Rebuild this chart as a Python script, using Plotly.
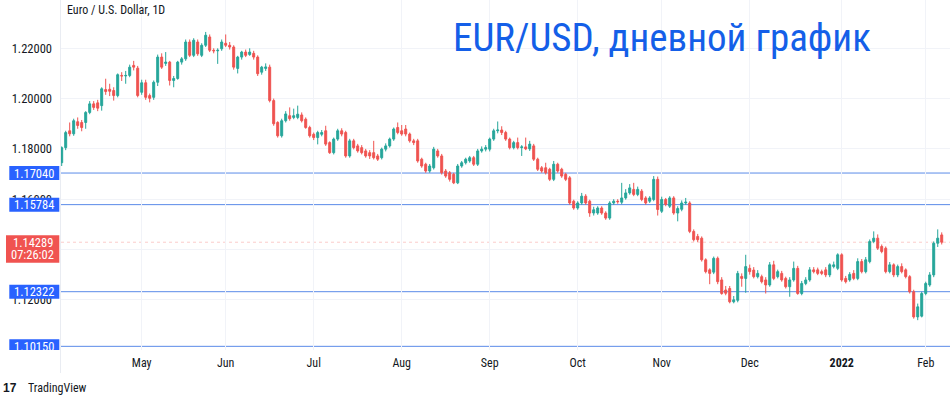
import plotly.graph_objects as go
import pandas as pd

# ---------------- data ----------------
open_ = [
    1.1745, 1.1805, 1.1872, 1.1860, 1.1908, 1.1905, 1.1905, 1.1945, 1.1979, 1.1983,
    1.1972, 1.2036, 1.2037, 1.2032, 1.2012, 1.2092, 1.2090, 1.2092, 1.2132, 1.2121,
    1.2025, 1.2063, 1.2012, 1.2005, 1.2065, 1.2165, 1.2140, 1.2145, 1.2072, 1.2080,
    1.2145, 1.2158, 1.2225, 1.2172, 1.2225, 1.2172, 1.2212, 1.2245, 1.2192, 1.2190,
    1.2198, 1.2220, 1.2212, 1.2205, 1.2120, 1.2165, 1.2185, 1.2175, 1.2180, 1.2165,
    1.2105, 1.2120, 1.2125, 1.1992, 1.1905, 1.1852, 1.1912, 1.1932, 1.1925, 1.1925,
    1.1935, 1.1918, 1.1885, 1.1858, 1.1845, 1.1858, 1.1872, 1.1825, 1.1785, 1.1839,
    1.1872, 1.1865, 1.1772, 1.1832, 1.1812, 1.1805, 1.1792, 1.1785, 1.1785, 1.1772,
    1.1765, 1.1799, 1.1812, 1.1839, 1.1885, 1.1872, 1.1879, 1.1859, 1.1832, 1.1832,
    1.1759, 1.1739, 1.1712, 1.1725, 1.1792, 1.1772, 1.1712, 1.1705, 1.1699, 1.1665,
    1.1732, 1.1745, 1.1752, 1.1765, 1.1739, 1.1792, 1.1799, 1.1799, 1.1839, 1.1872,
    1.1875, 1.1865, 1.1839, 1.1805, 1.1825, 1.1805, 1.1808, 1.1800, 1.1812, 1.1759,
    1.1725, 1.1725, 1.1719, 1.1679, 1.1739, 1.1719, 1.1699, 1.1685, 1.1592, 1.1565,
    1.1585, 1.1612, 1.1592, 1.1545, 1.1545, 1.1565, 1.1545, 1.1525, 1.1585, 1.1592,
    1.1588, 1.1605, 1.1625, 1.1639, 1.1619, 1.1632, 1.1605, 1.1592, 1.1599, 1.1679,
    1.1552, 1.1599, 1.1572, 1.1605, 1.1545, 1.1560, 1.1585, 1.1585, 1.1472, 1.1452,
    1.1445, 1.1359, 1.1319, 1.1310, 1.1365, 1.1279, 1.1239, 1.1245, 1.1192, 1.1198,
    1.1293, 1.1285, 1.1325, 1.1318, 1.1292, 1.1292, 1.1279, 1.1259, 1.1339, 1.1292,
    1.1305, 1.1285, 1.1252, 1.1279, 1.1325, 1.1225, 1.1265, 1.1279, 1.1319, 1.1319,
    1.1312, 1.1319, 1.1299, 1.1332, 1.1325, 1.1379, 1.1285, 1.1279, 1.1305, 1.1285,
    1.1352, 1.1312, 1.1352, 1.1432, 1.1445, 1.1412, 1.1405, 1.1312, 1.1339, 1.1299,
    1.1332, 1.1319, 1.1292, 1.1232, 1.1132, 1.1135, 1.1225, 1.1259, 1.1299, 1.1425,
    1.1458,
]
high_ = [
    1.1810, 1.1872, 1.1905, 1.1920, 1.1925, 1.1915, 1.1950, 1.1990, 1.1990, 1.1995,
    1.2045, 1.2079, 1.2059, 1.2045, 1.2100, 1.2105, 1.2110, 1.2135, 1.2150, 1.2130,
    1.2075, 1.2075, 1.2020, 1.2072, 1.2175, 1.2180, 1.2185, 1.2150, 1.2090, 1.2150,
    1.2165, 1.2235, 1.2235, 1.2240, 1.2235, 1.2220, 1.2265, 1.2255, 1.2200, 1.2200,
    1.2235, 1.2255, 1.2225, 1.2212, 1.2170, 1.2190, 1.2195, 1.2200, 1.2190, 1.2172,
    1.2130, 1.2140, 1.2135, 1.2000, 1.1910, 1.1920, 1.1950, 1.1965, 1.1960, 1.1972,
    1.1945, 1.1925, 1.1892, 1.1865, 1.1872, 1.1875, 1.1892, 1.1830, 1.1845, 1.1880,
    1.1882, 1.1872, 1.1840, 1.1840, 1.1820, 1.1815, 1.1800, 1.1795, 1.1832, 1.1780,
    1.1805, 1.1822, 1.1845, 1.1885, 1.1905, 1.1895, 1.1895, 1.1865, 1.1840, 1.1840,
    1.1765, 1.1745, 1.1740, 1.1808, 1.1800, 1.1780, 1.1720, 1.1712, 1.1705, 1.1740,
    1.1752, 1.1765, 1.1772, 1.1772, 1.1800, 1.1810, 1.1815, 1.1845, 1.1880, 1.1909,
    1.1890, 1.1872, 1.1845, 1.1832, 1.1845, 1.1815, 1.1845, 1.1832, 1.1820, 1.1765,
    1.1732, 1.1745, 1.1725, 1.1752, 1.1745, 1.1725, 1.1705, 1.1692, 1.1598, 1.1592,
    1.1625, 1.1620, 1.1598, 1.1570, 1.1572, 1.1572, 1.1552, 1.1592, 1.1600, 1.1600,
    1.1665, 1.1640, 1.1660, 1.1665, 1.1650, 1.1640, 1.1612, 1.1612, 1.1692, 1.1690,
    1.1610, 1.1605, 1.1612, 1.1612, 1.1572, 1.1595, 1.1605, 1.1592, 1.1480, 1.1462,
    1.1452, 1.1365, 1.1325, 1.1372, 1.1372, 1.1290, 1.1255, 1.1255, 1.1215, 1.1315,
    1.1305, 1.1379, 1.1340, 1.1330, 1.1318, 1.1300, 1.1290, 1.1350, 1.1355, 1.1320,
    1.1315, 1.1292, 1.1290, 1.1352, 1.1335, 1.1275, 1.1290, 1.1330, 1.1330, 1.1328,
    1.1320, 1.1330, 1.1345, 1.1352, 1.1385, 1.1385, 1.1295, 1.1310, 1.1318, 1.1365,
    1.1362, 1.1370, 1.1440, 1.1472, 1.1460, 1.1420, 1.1412, 1.1350, 1.1345, 1.1340,
    1.1345, 1.1325, 1.1298, 1.1240, 1.1185, 1.1232, 1.1272, 1.1310, 1.1432, 1.1480,
    1.1468,
]
low_ = [
    1.1732, 1.1795, 1.1850, 1.1852, 1.1880, 1.1870, 1.1880, 1.1938, 1.1955, 1.1950,
    1.1952, 1.2015, 1.2010, 1.1992, 1.2005, 1.2070, 1.2059, 1.2085, 1.2112, 1.2005,
    1.2015, 1.1995, 1.1985, 1.1995, 1.2050, 1.2118, 1.2130, 1.2052, 1.2045, 1.2075,
    1.2135, 1.2150, 1.2165, 1.2165, 1.2170, 1.2165, 1.2205, 1.2185, 1.2180, 1.2138,
    1.2190, 1.2205, 1.2195, 1.2115, 1.2100, 1.2155, 1.2165, 1.2170, 1.2155, 1.2090,
    1.2095, 1.2110, 1.1985, 1.1892, 1.1845, 1.1845, 1.1905, 1.1912, 1.1918, 1.1918,
    1.1905, 1.1880, 1.1845, 1.1835, 1.1818, 1.1850, 1.1812, 1.1780, 1.1778, 1.1832,
    1.1850, 1.1765, 1.1765, 1.1798, 1.1785, 1.1778, 1.1765, 1.1760, 1.1758, 1.1752,
    1.1758, 1.1790, 1.1805, 1.1832, 1.1858, 1.1852, 1.1850, 1.1825, 1.1815, 1.1745,
    1.1725, 1.1705, 1.1705, 1.1718, 1.1765, 1.1698, 1.1685, 1.1670, 1.1660, 1.1660,
    1.1725, 1.1738, 1.1745, 1.1732, 1.1732, 1.1785, 1.1790, 1.1790, 1.1832, 1.1862,
    1.1855, 1.1832, 1.1798, 1.1798, 1.1798, 1.1772, 1.1795, 1.1792, 1.1752, 1.1712,
    1.1705, 1.1698, 1.1672, 1.1672, 1.1705, 1.1685, 1.1672, 1.1578, 1.1558, 1.1558,
    1.1578, 1.1578, 1.1530, 1.1535, 1.1538, 1.1538, 1.1518, 1.1518, 1.1578, 1.1582,
    1.1580, 1.1598, 1.1618, 1.1612, 1.1612, 1.1592, 1.1578, 1.1585, 1.1592, 1.1535,
    1.1545, 1.1572, 1.1565, 1.1538, 1.1512, 1.1552, 1.1578, 1.1465, 1.1432, 1.1430,
    1.1352, 1.1305, 1.1262, 1.1302, 1.1262, 1.1220, 1.1218, 1.1186, 1.1186, 1.1190,
    1.1252, 1.1228, 1.1300, 1.1285, 1.1285, 1.1265, 1.1225, 1.1252, 1.1278, 1.1285,
    1.1272, 1.1245, 1.1212, 1.1272, 1.1220, 1.1218, 1.1258, 1.1272, 1.1305, 1.1298,
    1.1298, 1.1290, 1.1290, 1.1325, 1.1318, 1.1272, 1.1265, 1.1272, 1.1278, 1.1278,
    1.1305, 1.1305, 1.1345, 1.1425, 1.1398, 1.1385, 1.1305, 1.1305, 1.1290, 1.1290,
    1.1305, 1.1285, 1.1225, 1.1125, 1.1119, 1.1130, 1.1218, 1.1252, 1.1290, 1.1410,
    1.1420,
]
close_ = [
    1.1805, 1.1865, 1.1860, 1.1912, 1.1893, 1.1885, 1.1945, 1.1979, 1.1965, 1.1962,
    1.2039, 1.2028, 1.2029, 1.2012, 1.2095, 1.2090, 1.2092, 1.2125, 1.2125, 1.2012,
    1.2063, 1.2005, 1.2001, 1.2065, 1.2165, 1.2125, 1.2145, 1.2072, 1.2080, 1.2145,
    1.2158, 1.2225, 1.2172, 1.2232, 1.2178, 1.2212, 1.2252, 1.2192, 1.2190, 1.2192,
    1.2225, 1.2212, 1.2205, 1.2125, 1.2165, 1.2185, 1.2172, 1.2185, 1.2165, 1.2099,
    1.2125, 1.2126, 1.1992, 1.1900, 1.1852, 1.1912, 1.1939, 1.1920, 1.1932, 1.1938,
    1.1912, 1.1885, 1.1852, 1.1845, 1.1865, 1.1865, 1.1819, 1.1785, 1.1839, 1.1872,
    1.1859, 1.1772, 1.1832, 1.1805, 1.1792, 1.1785, 1.1772, 1.1772, 1.1765, 1.1759,
    1.1799, 1.1812, 1.1839, 1.1879, 1.1865, 1.1859, 1.1859, 1.1832, 1.1825, 1.1752,
    1.1732, 1.1712, 1.1732, 1.1799, 1.1772, 1.1705, 1.1692, 1.1679, 1.1665, 1.1732,
    1.1745, 1.1759, 1.1765, 1.1739, 1.1792, 1.1799, 1.1805, 1.1839, 1.1872, 1.1875,
    1.1865, 1.1839, 1.1805, 1.1825, 1.1805, 1.1808, 1.1800, 1.1819, 1.1759, 1.1719,
    1.1712, 1.1705, 1.1679, 1.1739, 1.1712, 1.1692, 1.1679, 1.1585, 1.1565, 1.1585,
    1.1612, 1.1585, 1.1545, 1.1558, 1.1565, 1.1545, 1.1525, 1.1585, 1.1592, 1.1590,
    1.1605, 1.1625, 1.1645, 1.1619, 1.1639, 1.1599, 1.1585, 1.1605, 1.1679, 1.1559,
    1.1599, 1.1579, 1.1605, 1.1545, 1.1563, 1.1585, 1.1588, 1.1472, 1.1439, 1.1439,
    1.1359, 1.1312, 1.1305, 1.1365, 1.1272, 1.1225, 1.1226, 1.1192, 1.1200, 1.1305,
    1.1285, 1.1332, 1.1312, 1.1292, 1.1305, 1.1272, 1.1259, 1.1339, 1.1285, 1.1312,
    1.1279, 1.1252, 1.1279, 1.1325, 1.1225, 1.1265, 1.1279, 1.1319, 1.1312, 1.1305,
    1.1305, 1.1299, 1.1339, 1.1339, 1.1379, 1.1279, 1.1272, 1.1301, 1.1285, 1.1352,
    1.1312, 1.1359, 1.1432, 1.1445, 1.1405, 1.1392, 1.1312, 1.1339, 1.1299, 1.1332,
    1.1312, 1.1292, 1.1232, 1.1132, 1.1172, 1.1225, 1.1265, 1.1299, 1.1425, 1.1445,
    1.14289,
]

month_ticks = ["2021-05-03", "2021-06-01", "2021-07-01", "2021-08-02", "2021-09-01",
               "2021-10-01", "2021-11-01", "2021-12-01", "2022-01-03", "2022-02-01"]
month_labels = ["May", "Jun", "Jul", "Aug", "Sep", "Oct", "Nov", "Dec", "2022", "Feb"]

price_ticks = [1.12, 1.14, 1.16, 1.18, 1.20, 1.22]
levels = [1.17040, 1.15784, 1.12322, 1.10150]
last_price = 1.14289
countdown = "07:26:02"

symbol_text = "Euro / U.S. Dollar, 1D"
title_text = "EUR/USD, дневной график"

# ---------------- figure ----------------
dates = pd.bdate_range("2021-04-05", "2022-02-07").strftime("%Y-%m-%d").tolist()
dates = dates[:len(close_)]

W, H = 950, 397
LM, BM = 61, 47
PW, PH = W - LM, H - BM

def px(xp):
    return (xp - LM) / PW

def py(yp):
    return (PH - yp) / PH

F = "Roboto Condensed, Liberation Sans Narrow, Roboto, sans-serif"
UP, DN = "#26a69a", "#ef5350"

fig = go.Figure(go.Candlestick(
    x=dates, open=open_, high=high_, low=low_, close=close_,
    increasing=dict(line=dict(color=UP, width=1), fillcolor=UP),
    decreasing=dict(line=dict(color=DN, width=1), fillcolor=DN),
    whiskerwidth=0, hoverinfo="skip", showlegend=False,
))

shapes = []
annotations = []
# separators
shapes.append(dict(type="line", xref="paper", yref="paper", x0=px(60.5), x1=px(60.5),
                   y0=py(373), y1=1, line=dict(color="#e9ecf2", width=1), layer="above"))
# current price line
shapes.append(dict(type="line", xref="paper", x0=0, x1=1, yref="y", y0=last_price, y1=last_price,
                   line=dict(color="rgba(239,83,80,0.30)", width=1, dash="dot"), layer="between"))
for lv in levels:
    shapes.append(dict(type="line", xref="paper", x0=0, x1=1, yref="y", y0=lv, y1=lv,
                       line=dict(color="#5b8be8", width=1), layer="between"))
    shapes.append(dict(type="rect", xref="paper", x0=px(9.3), x1=px(59.3), yref="y",
                       ysizemode="pixel", yanchor=lv, y0=-7, y1=7,
                       fillcolor="#2962ff", line=dict(width=0), layer="above"))
    annotations.append(dict(xref="paper", x=px(34.3), yref="y", y=lv, text=f"{lv:.5f}",
                            showarrow=False, xanchor="center", yanchor="middle",
                            font=dict(family=F, size=12.5, color="white")))
# last price label
shapes.append(dict(type="rect", xref="paper", x0=px(6), x1=px(59.3), yref="y",
                   ysizemode="pixel", yanchor=last_price, y0=-20.5, y1=7,
                   fillcolor="#f05350", line=dict(width=0), layer="above"))
annotations.append(dict(xref="paper", x=px(32.7), yref="y", y=last_price, text=f"{last_price:.5f}",
                        showarrow=False, xanchor="center", yanchor="middle",
                        font=dict(family=F, size=12.5, color="white")))
annotations.append(dict(xref="paper", x=px(32.7), yref="y", y=last_price, yshift=-12, text=countdown,
                        showarrow=False, xanchor="center", yanchor="middle",
                        font=dict(family=F, size=12.5, color="white")))
# texts
annotations.append(dict(xref="paper", yref="paper", x=px(65), y=py(10), text=symbol_text,
                        showarrow=False, xanchor="left", yanchor="middle",
                        font=dict(family=F, size=12, color="#131722")))
annotations.append(dict(xref="paper", yref="paper", x=px(451), y=py(38), text=title_text,
                        showarrow=False, xanchor="left", yanchor="middle",
                        font=dict(family=F, size=39, color="#145fe8")))
annotations.append(dict(xref="paper", yref="paper", x=px(1), y=py(388), text="<b>17</b>",
                        showarrow=False, xanchor="left", yanchor="middle",
                        font=dict(family="Liberation Sans, Arial", size=12, color="#131722")))
annotations.append(dict(xref="paper", yref="paper", x=px(26), y=py(388), text="TradingView",
                        showarrow=False, xanchor="left", yanchor="middle",
                        font=dict(family=F, size=12, color="#131722")))

ticktext = [f"<b>{t}</b>" if t.isdigit() else t for t in month_labels]

fig.update_layout(
    width=W, height=H,
    margin=dict(l=LM, r=0, t=0, b=BM),
    paper_bgcolor="white", plot_bgcolor="white",
    shapes=shapes, annotations=annotations,
    showlegend=False, hovermode=False,
    xaxis=dict(type="category", range=[-0.175, 222.07], rangeslider=dict(visible=False),
               tickvals=month_ticks, ticktext=ticktext, ticks="", showgrid=True,
               gridcolor="#f1f3f8", gridwidth=1, showline=False, zeroline=False,
               tickfont=dict(family=F, size=12, color="#131722"), ticklabelstandoff=4,
               fixedrange=True),
    yaxis=dict(range=[1.10004, 1.23920], side="left", tickvals=price_ticks, tickformat=".5f",
               ticks="", showgrid=True, gridcolor="#f1f3f8", gridwidth=1, showline=False,
               zeroline=False, tickfont=dict(family=F, size=12.5, color="#131722"),
               ticklabelstandoff=8, fixedrange=True),
)

fig.write_html("out.html", config={"displayModeBar": False},
               post_script="document.body.style.margin='0';document.body.style.overflow='hidden';")
